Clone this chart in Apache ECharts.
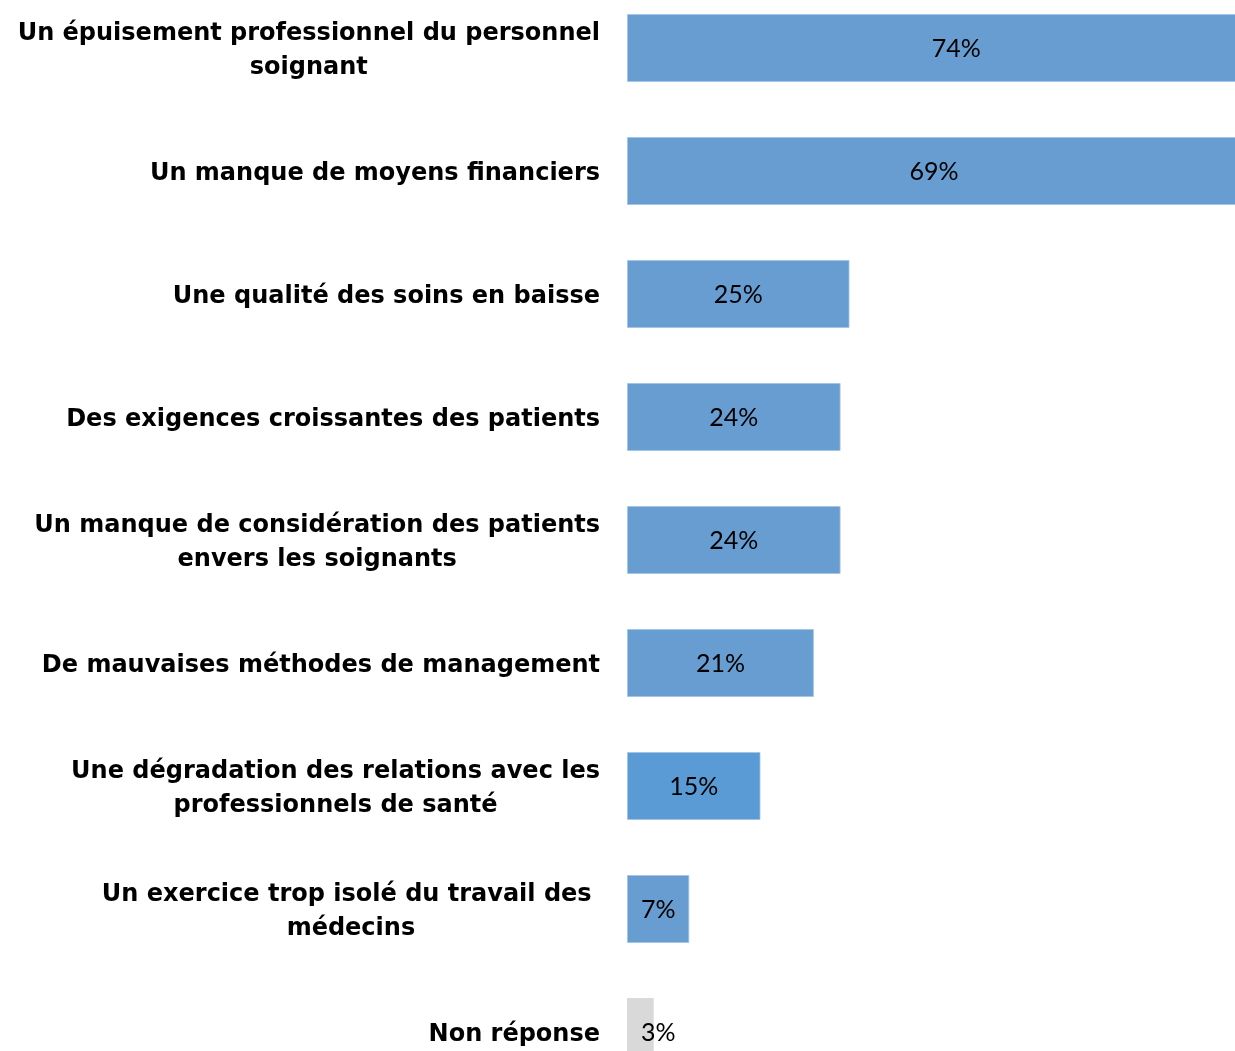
<!DOCTYPE html>
<html>
<head>
<meta charset="utf-8">
<script src="https://cdn.jsdelivr.net/npm/echarts@6/dist/echarts.min.js"></script>
<style>
  html, body { margin: 0; padding: 0; background: #fff; }
  #chart { width: 1235px; height: 1051px; }
</style>
</head>
<body>
<div id="chart"></div>
<script>
// data
const categories = [
  'Un épuisement professionnel du personnel\nsoignant',
  'Un manque de moyens financiers',
  'Une qualité des soins en baisse',
  'Des exigences croissantes des patients',
  'Un manque de considération des patients\nenvers les soignants',
  'De mauvaises méthodes de management',
  'Une dégradation des relations avec les\nprofessionnels de santé',
  'Un exercice trop isolé du travail des \nmédecins',
  'Non réponse'
]
const values = [74, 69, 25, 24, 24, 21, 15, 7, 3]

// styles
const blue = '#689DD2'
const blueAlt = '#5B9BD5'
const grey = '#D9D9D9'
const barColors = [blue, blue, blue, blue, blue, blue, blueAlt, blue, grey]

const chart = echarts.init(document.getElementById('chart'))

const seriesData = values.map((v, i) => {
  const item = {
    value: v,
    itemStyle: {
      color: barColors[i],
      borderWidth: barColors[i] === grey ? 0 : 1
    }
  }
  // last label sits a bit to the right of its small bar
  if (i === values.length - 1) {
    item.label = { offset: [18, 1] }
  }
  return item
})

const option = {
  animation: false,
  grid: {
    left: 627,
    top: -13.5,
    width: 890,
    height: 1107,
    containLabel: false,
    outerBoundsMode: 'none'
  },
  xAxis: {
    type: 'value',
    min: 0,
    max: 100,
    show: false
  },
  yAxis: {
    type: 'category',
    data: categories,
    inverse: true,
    axisLine: { show: false },
    axisTick: { show: false },
    splitLine: { show: false },
    axisLabel: {
      interval: 0,
      margin: 27,
      padding: [6, 0, 0, 0],
      formatter: v => v.split('\n').map(l => '{c|' + l + '}').join('\n'),
      rich: {
        c: {
          align: 'center',
          fontFamily: 'DejaVu Sans',
          fontWeight: 'bold',
          fontSize: 24,
          lineHeight: 34,
          color: '#000'
        }
      }
    }
  },
  series: [{
    type: 'bar',
    barWidth: 68,
    data: seriesData,
    itemStyle: {
      borderColor: 'rgba(160, 195, 230, 0.8)'
    },
    label: {
      show: true,
      position: 'inside',
      offset: [0, 1],
      formatter: '{c}%',
      fontFamily: 'Lato, sans-serif',
      fontSize: 25,
      color: '#000'
    }
  }]
}

chart.setOption(option)
</script>
</body>
</html>
